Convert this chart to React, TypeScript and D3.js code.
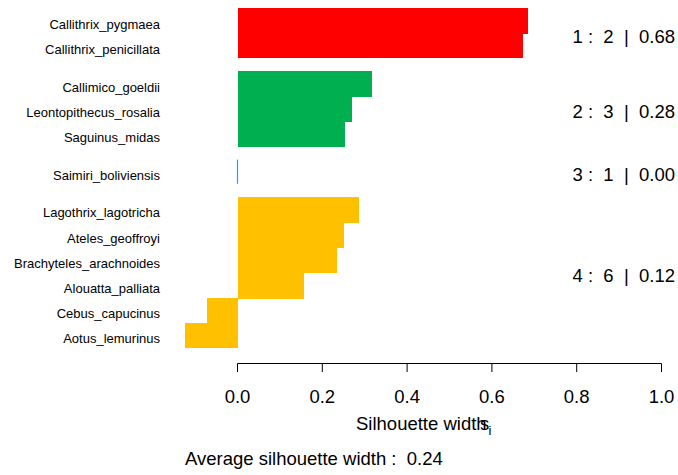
import React from "react";
import * as d3 from "d3";

const names = [
  "Callithrix_pygmaea",
  "Callithrix_penicillata",
  "Callimico_goeldii",
  "Leontopithecus_rosalia",
  "Saguinus_midas",
  "Saimiri_boliviensis",
  "Lagothrix_lagotricha",
  "Ateles_geoffroyi",
  "Brachyteles_arachnoides",
  "Alouatta_palliata",
  "Cebus_capucinus",
  "Aotus_lemurinus",
];
const clusterOf = [1, 1, 2, 2, 2, 3, 4, 4, 4, 4, 4, 4];
const silWidths = [0.685, 0.673, 0.317, 0.27, 0.254, 0.0, 0.287, 0.25, 0.234, 0.156, -0.072, -0.124];
const clusterIds = [1, 2, 3, 4];
const clusterSizes = [2, 3, 1, 6];
const clusterAvg = [0.68, 0.28, 0.0, 0.12];
const clusterColors = ["#FF0000", "#00B050", "#00B0F0", "#FFC000"];
const xTicks = [0, 0.2, 0.4, 0.6, 0.8, 1.0];
const avgWidth = 0.24;

const W = 678;
const H = 475;
const GAP = 0.5;

export default function App() {
  const x = d3.scaleLinear().domain([0, 1]).range([237.5, 661.5]);
  // vertical slot positions: bar index plus half-bar gaps between clusters
  const starts: number[] = [];
  let pos = 0;
  names.forEach((_, i) => {
    if (i > 0 && clusterOf[i] !== clusterOf[i - 1]) pos += GAP;
    starts.push(pos);
    pos += 1;
  });
  const total = pos;
  const y = d3.scaleLinear().domain([0, total]).range([8, 348]);
  const fmt = d3.format(".1f");
  const fmt2 = d3.format(".2f");
  const font = "'Liberation Sans', Arial, Helvetica, sans-serif";

  return (
    <svg
      width={W}
      height={H}
      style={{ position: "absolute", left: 0, top: 0, background: "#fff" }}
      fontFamily={font}
    >
      {names.map((n, i) => {
        const v = silWidths[i];
        const c = clusterColors[clusterIds.indexOf(clusterOf[i])];
        const y0 = y(starts[i]);
        const y1 = y(starts[i] + 1);
        const mid = (y0 + y1) / 2;
        const nextSame = i < names.length - 1 && clusterOf[i + 1] === clusterOf[i];
        return (
          <g key={n}>
            {v === 0 ? (
              <line x1={x(0)} x2={x(0)} y1={y0 + 0.5} y2={y1 - 0.5} stroke={c} strokeWidth={1.2} />
            ) : (
              <rect
                x={x(Math.min(0, v))}
                y={y0}
                width={Math.abs(x(v) - x(0))}
                height={y1 - y0 + (nextSame ? 1 : 0)}
                fill={c}
                shapeRendering="crispEdges"
              />
            )}
            <text x={160} y={mid + 8} fontSize={13} textAnchor="end" fill="#000">
              {n}
            </text>
          </g>
        );
      })}
      {clusterIds.map((cid, k) => {
        const idx = clusterOf.map((c, i) => (c === cid ? i : -1)).filter((i) => i >= 0);
        const top = y(starts[idx[0]]);
        const bot = y(starts[idx[idx.length - 1]] + 1);
        const mid = (top + bot) / 2;
        return (
          <text
            key={cid}
            x={675}
            y={mid + 9.5}
            fontSize={18.5}
            textAnchor="end"
            style={{ whiteSpace: "pre" }}
          >
            {`${cid} :  ${clusterSizes[k]}  |  ${fmt2(clusterAvg[k])}`}
          </text>
        );
      })}
      <g>
        <line x1={x(0)} x2={x(1)} y1={363.5} y2={363.5} stroke="#000" strokeWidth={1} />
        {xTicks.map((t) => (
          <g key={t}>
            <line x1={x(t)} x2={x(t)} y1={363.5} y2={372} stroke="#000" strokeWidth={1} />
            <text x={x(t)} y={403} fontSize={18.5} textAnchor="middle">
              {fmt(t)}
            </text>
          </g>
        ))}
      </g>
      <text x={356} y={430} fontSize={18.5}>
        Silhouette width
      </text>
      <text x={480} y={430} fontSize={18.5}>
        s
      </text>
      <text x={488.5} y={435} fontSize={13}>
        i
      </text>
      <text x={185} y={465} fontSize={18.5} style={{ whiteSpace: "pre" }}>
        {`Average silhouette width :  ${fmt2(avgWidth)}`}
      </text>
    </svg>
  );
}
